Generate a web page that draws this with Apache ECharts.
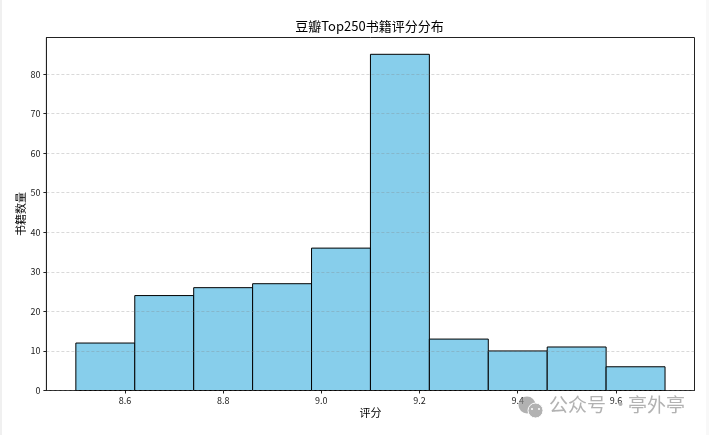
<!DOCTYPE html>
<html>
<head>
<meta charset="utf-8">
<style>
  html, body { margin: 0; padding: 0; background: #fff; }
  #chart { width: 709px; height: 435px; }
</style>
<script src="https://cdn.jsdelivr.net/npm/echarts@6/dist/echarts.min.js"></script>
</head>
<body>
<div id="chart"></div>
<script>
// Histogram of book ratings: ten equal bins from 8.5 to 9.7
const binEdges = [8.5, 8.62, 8.74, 8.86, 8.98, 9.1, 9.22, 9.34, 9.46, 9.58, 9.7];
const binCounts = [12, 24, 26, 27, 36, 85, 13, 10, 11, 6];
const xTicks = [8.6, 8.8, 9.0, 9.2, 9.4, 9.6];
const yTicks = [0, 10, 20, 30, 40, 50, 60, 70, 80];

const FONT = '"Noto Sans CJK SC", sans-serif';
const MARK = '#b2b2b2';
const bars = binCounts.map((count, i) => [binEdges[i], binEdges[i + 1], count]);

const chart = echarts.init(document.getElementById('chart'), null, { renderer: 'canvas' });
chart.setOption({
  animation: false,
  backgroundColor: '#ffffff',
  title: {
    text: '豆瓣Top250书籍评分分布',
    left: 364.5, top: 15, textAlign: 'center',
    textStyle: { fontFamily: FONT, fontSize: 13, fontWeight: 'normal', color: '#000' }
  },
  grid: {
    left: 46.4, right: 14.5, top: 37.5, bottom: 44.5,
    show: true, borderColor: '#222', borderWidth: 1, backgroundColor: 'transparent'
  },
  xAxis: {
    type: 'value', min: 8.44, max: 9.76,
    name: '评分', nameLocation: 'middle', nameGap: 17, nameMoveOverlap: false,
    nameTextStyle: { fontFamily: FONT, fontSize: 11, color: '#000' },
    axisLine: { show: true, onZero: false, lineStyle: { color: '#222' } },
    axisTick: { show: true, length: 3, lineStyle: { color: '#222' }, customValues: xTicks },
    axisLabel: {
      fontFamily: FONT, fontSize: 9, color: '#222', margin: 6,
      customValues: xTicks, formatter: v => v.toFixed(1)
    },
    splitLine: { show: false }
  },
  yAxis: {
    type: 'value', min: 0, max: 89.25, z: 4,
    name: '书籍数量', nameLocation: 'middle', nameGap: 20, nameMoveOverlap: false,
    nameTextStyle: { fontFamily: FONT, fontSize: 11, color: '#000' },
    axisLine: { show: true, lineStyle: { color: '#222' } },
    axisTick: { show: true, length: 3, lineStyle: { color: '#222' }, customValues: yTicks },
    axisLabel: { fontFamily: FONT, fontSize: 9, color: '#222', margin: 6, customValues: yTicks },
    splitLine: { show: true, lineStyle: { color: 'rgba(128,128,128,0.3)', type: [3, 2], width: 1 } }
  },
  series: [{
    type: 'custom', z: 2,
    encode: { x: [0, 1], y: 2 },
    data: bars,
    renderItem(params, api) {
      const p0 = api.coord([api.value(0), 0]);
      const p1 = api.coord([api.value(1), api.value(2)]);
      return {
        type: 'rect',
        shape: { x: p0[0], y: p1[1], width: p1[0] - p0[0], height: p0[1] - p1[1] },
        style: { fill: '#87CEEB', stroke: '#000', lineWidth: 1 }
      };
    }
  }],
  graphic: [
    // page edges
    { type: 'rect', left: 0, top: 0, shape: { width: 2, height: 435 }, style: { fill: '#f0f0f0' }, z: 10 },
    { type: 'rect', left: 706, top: 0, shape: { width: 3, height: 435 }, style: { fill: '#f8f8f8' }, z: 10 },
    // account badge in the lower right corner
    { type: 'circle', shape: { cx: 527, cy: 405, r: 8.5 }, style: { fill: '#909090', opacity: 0.7 }, z: 10 },
    { type: 'circle', shape: { cx: 535.5, cy: 410.5, r: 7.5 }, style: { fill: MARK, stroke: '#fff', lineWidth: 1 }, z: 11 },
    { type: 'circle', shape: { cx: 532, cy: 409, r: 1 }, style: { fill: '#fff' }, z: 12 },
    { type: 'circle', shape: { cx: 539, cy: 409, r: 1 }, style: { fill: '#fff' }, z: 12 },
    { type: 'text', left: 549, top: 395, z: 10,
      style: { text: '公众号', fontFamily: FONT, fontSize: 19, fill: MARK } },
    { type: 'text', left: 611, top: 395, z: 10,
      style: { text: '·', fontFamily: FONT, fontSize: 19, fill: MARK } },
    { type: 'text', left: 628, top: 395, z: 10,
      style: { text: '亭外亭', fontFamily: FONT, fontSize: 19, fill: MARK } }
  ]
});
</script>
</body>
</html>
